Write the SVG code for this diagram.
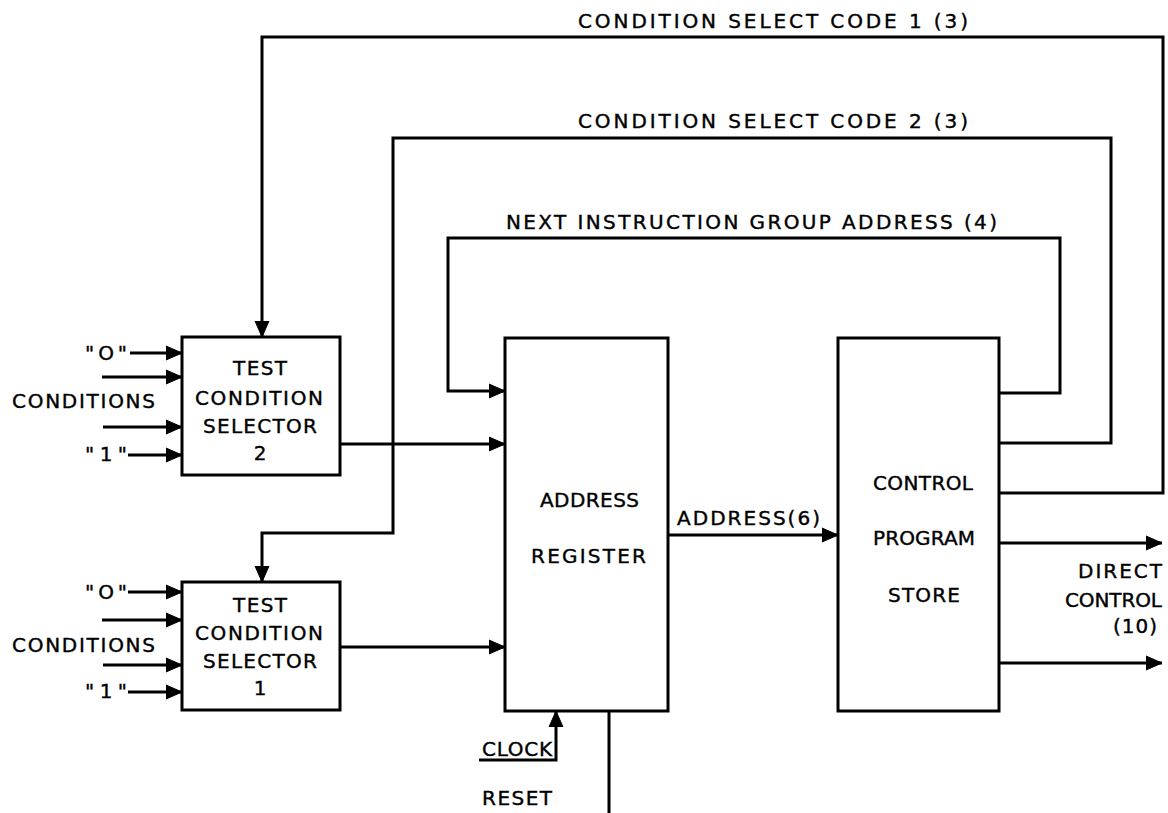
<svg xmlns="http://www.w3.org/2000/svg" width="1168" height="813" viewBox="0 0 1168 813">
<style>
  .box { fill: #fff; stroke: #000; stroke-width: 3; }
  .w { fill: none; stroke: #000; stroke-width: 3; stroke-linejoin: miter; }
  .a { marker-end: url(#ah); }
  text { font-family: "DejaVu Sans", "Liberation Sans", sans-serif; font-size: 20px; fill: #000; stroke: #000; stroke-width: 0.4; }
</style>
<defs>
  <marker id="ah" markerUnits="userSpaceOnUse" markerWidth="17" markerHeight="16" refX="16" refY="8" orient="auto">
    <path d="M0,1 L16,8 L0,15 Z" fill="#000" stroke="#000" stroke-width="1" stroke-linejoin="round"/>
  </marker>
</defs>
<rect width="1168" height="813" fill="#fff"/>

<g id="connectors">
  <path class="w a" d="M999,493 H1163 V37 H262 V337"/>
  <path class="w a" d="M999,443 H1111 V138 H393 V533 H262 V582"/>
  <path class="w a" d="M999,393 H1060 V238 H448 V391 H505"/>
  <path class="w a" d="M340,444 H505"/>
  <path class="w a" d="M340,647 H505"/>
  <path class="w a" d="M668,535 H838"/>
  <path class="w a" d="M479,760 H556 V711"/>
  <path class="w" d="M609,711 V813"/>
  <path class="w a" d="M999,543 H1162"/>
  <path class="w a" d="M999,663 H1162"/>
  <path class="w a" d="M130,353 H182"/>
  <path class="w a" d="M102,377 H182"/>
  <path class="w a" d="M103,427 H182"/>
  <path class="w a" d="M128,455 H182"/>
  <path class="w a" d="M128,592 H182"/>
  <path class="w a" d="M102,620 H182"/>
  <path class="w a" d="M103,665 H182"/>
  <path class="w a" d="M128,692 H182"/>
</g>

<g id="labels">
  <text x="578" y="28" textLength="390" lengthAdjust="spacing">CONDITION SELECT CODE 1 (3)</text>
  <text x="578" y="128" textLength="390" lengthAdjust="spacing">CONDITION SELECT CODE 2 (3)</text>
  <text x="506" y="229" textLength="491" lengthAdjust="spacing">NEXT INSTRUCTION GROUP ADDRESS (4)</text>
  <text x="677" y="525" textLength="143" lengthAdjust="spacing">ADDRESS(6)</text>
  <text x="1078" y="578" textLength="84" lengthAdjust="spacing">DIRECT</text>
  <text x="1065" y="607" textLength="97" lengthAdjust="spacing">CONTROL</text>
  <text x="1113" y="633" textLength="44" lengthAdjust="spacing">(10)</text>
  <text x="482" y="756" textLength="70" lengthAdjust="spacing">CLOCK</text>
  <text x="482" y="805" textLength="70" lengthAdjust="spacing">RESET</text>
  <text x="85" y="360" textLength="42" lengthAdjust="spacing">"O"</text>
  <text x="12" y="408" textLength="143" lengthAdjust="spacing">CONDITIONS</text>
  <text x="85" y="461" textLength="42" lengthAdjust="spacing">"1"</text>
  <text x="85" y="599" textLength="42" lengthAdjust="spacing">"O"</text>
  <text x="12" y="652" textLength="143" lengthAdjust="spacing">CONDITIONS</text>
  <text x="85" y="698" textLength="42" lengthAdjust="spacing">"1"</text>
</g>

<g id="tcs2">
  <rect class="box" x="182" y="337" width="158" height="138"/>
  <text x="233" y="375" textLength="54" lengthAdjust="spacing">TEST</text>
  <text x="195" y="405" textLength="128" lengthAdjust="spacing">CONDITION</text>
  <text x="203" y="433" textLength="114" lengthAdjust="spacing">SELECTOR</text>
  <text x="260" y="460" text-anchor="middle">2</text>
</g>

<g id="tcs1">
  <rect class="box" x="182" y="582" width="158" height="128"/>
  <text x="233" y="612" textLength="54" lengthAdjust="spacing">TEST</text>
  <text x="195" y="640" textLength="128" lengthAdjust="spacing">CONDITION</text>
  <text x="203" y="668" textLength="114" lengthAdjust="spacing">SELECTOR</text>
  <text x="260" y="695" text-anchor="middle">1</text>
</g>

<g id="address-register">
  <rect class="box" x="505" y="338" width="163" height="373"/>
  <text x="540" y="507" textLength="99" lengthAdjust="spacing">ADDRESS</text>
  <text x="531" y="563" textLength="115" lengthAdjust="spacing">REGISTER</text>
</g>

<g id="control-program-store">
  <rect class="box" x="838" y="338" width="161" height="373"/>
  <text x="873" y="490" textLength="100" lengthAdjust="spacing">CONTROL</text>
  <text x="873" y="545" textLength="102" lengthAdjust="spacing">PROGRAM</text>
  <text x="888" y="602" textLength="72" lengthAdjust="spacing">STORE</text>
</g>
</svg>
